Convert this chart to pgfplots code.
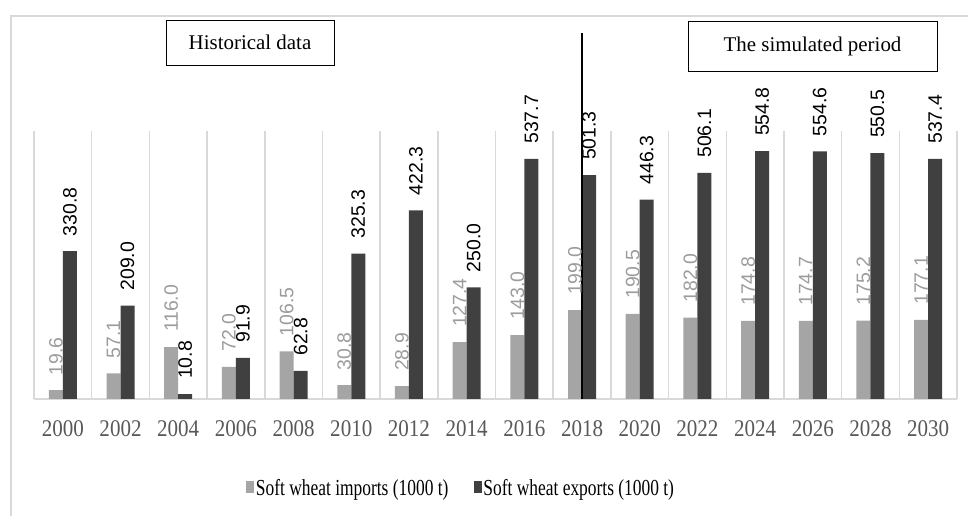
\documentclass[border=0pt]{standalone}
\usepackage{pgfplots}
\usepackage{pgfplotstable}
\pgfplotsset{compat=1.18}
\usepackage{fontspec}
\setmainfont{Liberation Serif}
\newfontfamily\legfont[FakeStretch=0.76]{Liberation Serif}
\newfontfamily\yearfont[FakeStretch=0.88]{Liberation Serif}
\newfontfamily\labfont{Liberation Sans}
\definecolor{impc}{HTML}{A5A5A5}
\definecolor{expc}{HTML}{404040}
\definecolor{gridc}{HTML}{D9D9D9}
\definecolor{yearc}{HTML}{595959}
\definecolor{implab}{HTML}{9C9C9C}

\pgfplotstableread{
x imp exp
0 19.6 330.8
1 57.1 209.0
2 116.0 10.8
3 72.0 91.9
4 106.5 62.8
5 30.8 325.3
6 28.9 422.3
7 127.4 250.0
8 143.0 537.7
9 199.0 501.3
10 190.5 446.3
11 182.0 506.1
12 174.8 554.8
13 174.7 554.6
14 175.2 550.5
15 177.1 537.4
}\datatable

\begin{document}
\begin{tikzpicture}[x=1bp,y=1bp]
\useasboundingbox (0,0) rectangle (968,516);
\draw[gridc, line width=1.5bp] (11,0) -- (11,500) -- (968,500);
\node[draw=black, line width=0.8bp, minimum width=168bp, minimum height=45bp, inner sep=0pt,
  font=\fontsize{21}{21}\selectfont] at (250,473.5) {Historical data};
\node[draw=black, line width=0.8bp, minimum width=249bp, minimum height=50bp, inner sep=0pt,
  font=\fontsize{21}{21}\selectfont] at (812.5,470) {The simulated period};
\begin{axis}[
  at={(34bp,117bp)}, anchor=south west,
  scale only axis, width=923bp, height=268bp,
  xmin=-0.5, xmax=15.5, ymin=0, ymax=600,
  ybar=0pt, bar width=14bp,
  axis x line=bottom, axis y line=none,
  axis line style={gridc, line width=2bp, -},
  xtick={0,1,...,15},
  xticklabels={2000,2002,2004,2006,2008,2010,2012,2014,2016,2018,2020,2022,2024,2026,2028,2030},
  major tick length=0pt, minor tick length=0pt,
  minor xtick={-0.5,0.5,...,15.5},
  xminorgrids, minor grid style={gridc, line width=1.5bp},
  xticklabel style={font=\yearfont\fontsize{24}{24}\selectfont, text=yearc, inner sep=0pt, anchor=north, yshift=-21bp},
  clip=false,
  nodes near coords={\pgfmathprintnumber[fixed,fixed zerofill,precision=1,assume math mode=true]{\pgfplotspointmeta}},
  every node near coord/.append style={rotate=90, anchor=west, inner xsep=15bp, inner ysep=0pt,
     font=\labfont\fontsize{19.5}{19.5}\selectfont},
  legend style={at={(0.4626,-0.332)}, anchor=center, draw=none, fill=none, legend columns=2,
     font=\legfont\fontsize{23}{23}\selectfont, nodes={inner sep=1.5bp},
     /tikz/every even column/.append style={column sep=24bp}},
  legend image code/.code={\fill[#1] (0bp,-5bp) rectangle (8bp,7bp);},
]
\addplot[fill=impc, draw=none, every node near coord/.append style={text=implab}] table[x=x,y=imp] {\datatable};
\addplot[fill=expc, draw=none, every node near coord/.append style={text=black}] table[x=x,y=exp] {\datatable};
\legend{Soft wheat imports (1000 t), Soft wheat exports (1000 t)}
\draw[black, line width=2bp] (axis cs:9,0) -- (axis cs:9,819);
\end{axis}
\end{tikzpicture}
\end{document}
